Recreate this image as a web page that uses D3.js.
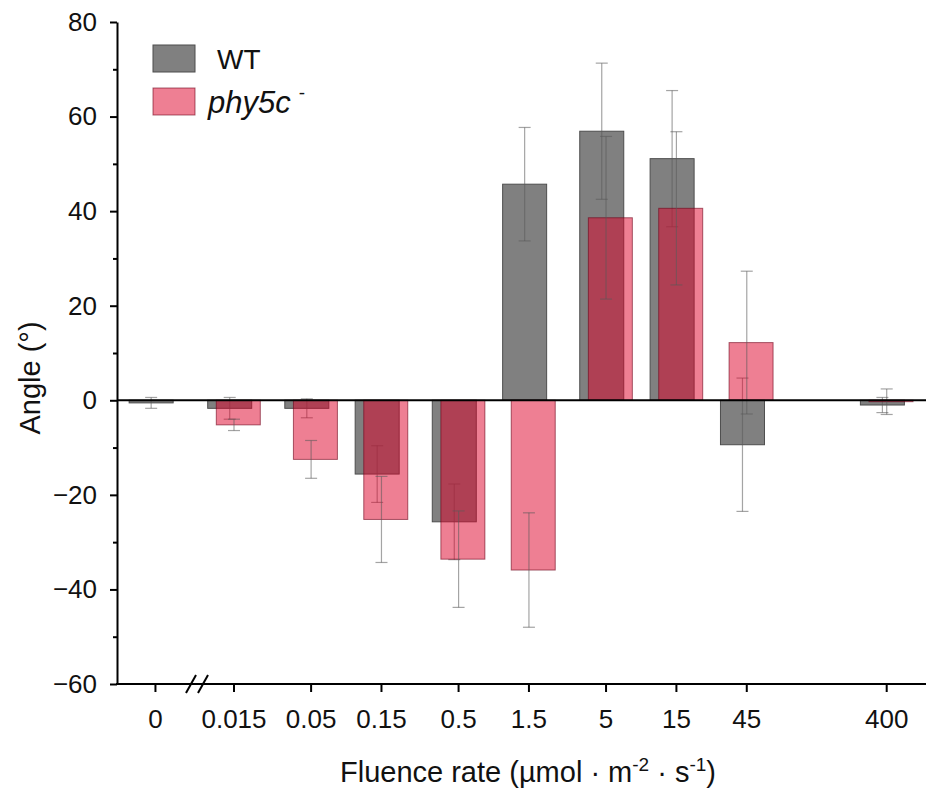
<!DOCTYPE html>
<html>
<head>
<meta charset="utf-8">
<script src="https://cdn.jsdelivr.net/npm/d3@7"></script>
<style>
  body { margin: 0; background: #fff; }
  text { font-family: "Liberation Sans", Arial, sans-serif; }
</style>
</head>
<body>
<svg id="chart"></svg>
<script>
let categories = ["0", "0.015", "0.05", "0.15", "0.5", "1.5", "5", "15", "45", "400"];
let fluence = [0, 0.015, 0.05, 0.15, 0.5, 1.5, 5, 15, 45, 400];

let wtMean = [-0.55, -1.7, -1.7, -15.6, -25.7, 45.7, 56.9, 51.1, -9.4, -1.0];
let wtErr = [1.15, 2.3, 2.0, 6.0, 8.0, 12.0, 14.4, 14.4, 14.1, 1.6];
let phyMean = [null, -5.2, -12.5, -25.2, -33.6, -35.9, 38.6, 40.6, 12.2, -0.3];
let phyErr = [null, 1.2, 4.0, 9.1, 10.2, 12.1, 17.2, 16.2, 15.1, 2.7];

let yTicks = [-60, -40, -20, 0, 20, 40, 60, 80];
let yMinorTicks = [-50, -30, -10, 10, 30, 50, 70];

let width = 929,
    height = 792;

// "0" has no place on a log axis, so it sits left of the axis break
let zeroStandIn = 0.0044;

let svg = d3.select("#chart")
    .attr("width", width)
    .attr("height", height);

let x = d3.scaleLog()
    .domain([0.015, 400])
    .range([234, 886.7]);

let xPos = function (v) {
    return v === 0 ? x(zeroStandIn) : x(v);
};

let y = d3.scaleLinear()
    .domain([-60, 80])
    .range([684, 22]);

let barW = 44;

let series = [
    { name: "WT", mean: wtMean, err: wtErr, shift: -4.3, errShift: -4.3,
      fill: "#808080", fillOpacity: 1, stroke: "#4d4d4d", errColor: "rgba(90,90,90,0.55)" },
    { name: "phy5c", mean: phyMean, err: phyErr, shift: 4.3, errShift: 0,
      fill: "rgb(221,0,40)", fillOpacity: 0.5, stroke: "rgba(110,0,25,0.6)", errColor: "rgba(90,90,90,0.55)" }
];

series.forEach(function (s) {
    let rows = fluence.map(function (f, i) {
        return { f: f, m: s.mean[i], e: s.err[i] };
    }).filter(function (d) { return d.m !== null; });

    svg.append("g").selectAll("rect")
        .data(rows)
        .enter().append("rect")
        .attr("x", d => xPos(d.f) + s.shift - barW / 2)
        .attr("width", barW)
        .attr("y", d => y(Math.max(0, d.m)))
        .attr("height", d => Math.abs(y(d.m) - y(0)))
        .attr("fill", s.fill)
        .attr("fill-opacity", s.fillOpacity)
        .attr("stroke", s.stroke)
        .attr("stroke-width", 1);

    let eb = svg.append("g")
        .attr("stroke", s.errColor)
        .attr("stroke-width", 1.2)
        .selectAll("g")
        .data(rows)
        .enter().append("g")
        .attr("transform", d => "translate(" + (xPos(d.f) + s.errShift) + ",0)");

    eb.append("line")
        .attr("y1", d => y(d.m + d.e))
        .attr("y2", d => y(d.m - d.e));
    eb.append("line")
        .attr("x1", -6).attr("x2", 6)
        .attr("y1", d => y(d.m + d.e))
        .attr("y2", d => y(d.m + d.e));
    eb.append("line")
        .attr("x1", -6).attr("x2", 6)
        .attr("y1", d => y(d.m - d.e))
        .attr("y2", d => y(d.m - d.e));
});

// zero line
svg.append("line")
    .attr("x1", 117).attr("x2", 926)
    .attr("y1", y(0)).attr("y2", y(0))
    .attr("stroke", "#000")
    .attr("stroke-width", 2);

// y axis
let yAxis = svg.append("g")
    .attr("transform", "translate(117,0)")
    .call(d3.axisLeft(y).tickValues(yTicks).tickSize(7).tickSizeOuter(0)
        .tickFormat(d => d < 0 ? "\u2212" + Math.abs(d) : d));
yAxis.select(".domain").attr("stroke-width", 2);
yAxis.selectAll(".tick line").attr("stroke-width", 2);
yAxis.selectAll(".tick text")
    .attr("font-size", 26)
    .attr("font-family", "Liberation Sans, Arial, sans-serif")
    .attr("fill", "#111")
    .attr("x", -20);

svg.append("g")
    .attr("transform", "translate(117,0)")
    .call(d3.axisLeft(y).tickValues(yMinorTicks).tickSize(4).tickFormat(""))
    .call(g => g.select(".domain").remove())
    .selectAll(".tick line").attr("stroke-width", 2);

// x axis
let xAxisG = svg.append("g")
    .attr("transform", "translate(0,684)");
xAxisG.append("line")
    .attr("x1", 116).attr("x2", 926)
    .attr("stroke", "#000")
    .attr("stroke-width", 2);
let xt = xAxisG.selectAll(".xtick")
    .data(fluence)
    .enter().append("g")
    .attr("transform", (d) => "translate(" + xPos(d) + ",0)");
xt.append("line")
    .attr("y2", 8)
    .attr("stroke", "#000")
    .attr("stroke-width", 2);
xt.append("text")
    .attr("y", 44)
    .attr("text-anchor", "middle")
    .attr("font-size", 26)
    .attr("fill", "#111")
    .text((d, i) => categories[i]);

// axis break marks
[186, 198].forEach(function (bx) {
    xAxisG.append("line")
        .attr("x1", bx).attr("y1", 9)
        .attr("x2", bx + 10).attr("y2", -9)
        .attr("stroke", "#000")
        .attr("stroke-width", 2);
});

// axis titles
svg.append("text")
    .attr("transform", "translate(40,378) rotate(-90)")
    .attr("text-anchor", "middle")
    .attr("font-size", 29)
    .attr("fill", "#111")
    .text("Angle (°)");

let xt2 = svg.append("text")
    .attr("x", 528)
    .attr("y", 782)
    .attr("text-anchor", "middle")
    .attr("font-size", 29)
    .attr("fill", "#111");
xt2.append("tspan").text("Fluence rate (µmol · m");
xt2.append("tspan").attr("dy", -11).attr("font-size", 19).text("-2");
xt2.append("tspan").attr("dy", 11).text(" · s");
xt2.append("tspan").attr("dy", -11).attr("font-size", 19).text("-1");
xt2.append("tspan").attr("dy", 11).text(")");

// legend
let legend = svg.append("g");
legend.append("rect")
    .attr("x", 153).attr("y", 45).attr("width", 42).attr("height", 27)
    .attr("fill", series[0].fill).attr("stroke", series[0].stroke);
legend.append("text")
    .attr("x", 217).attr("y", 69)
    .attr("font-size", 28).attr("fill", "#111")
    .text("WT");
legend.append("rect")
    .attr("x", 153).attr("y", 88).attr("width", 42).attr("height", 27)
    .attr("fill", series[1].fill).attr("fill-opacity", series[1].fillOpacity)
    .attr("stroke", series[1].stroke);
let lt = legend.append("text")
    .attr("x", 208).attr("y", 113)
    .attr("font-size", 31).attr("fill", "#111");
lt.append("tspan").attr("font-style", "italic").text("phy5c");
lt.append("tspan").attr("dx", 8).attr("dy", -14).attr("font-size", 19).text("-");
</script>
</body>
</html>
